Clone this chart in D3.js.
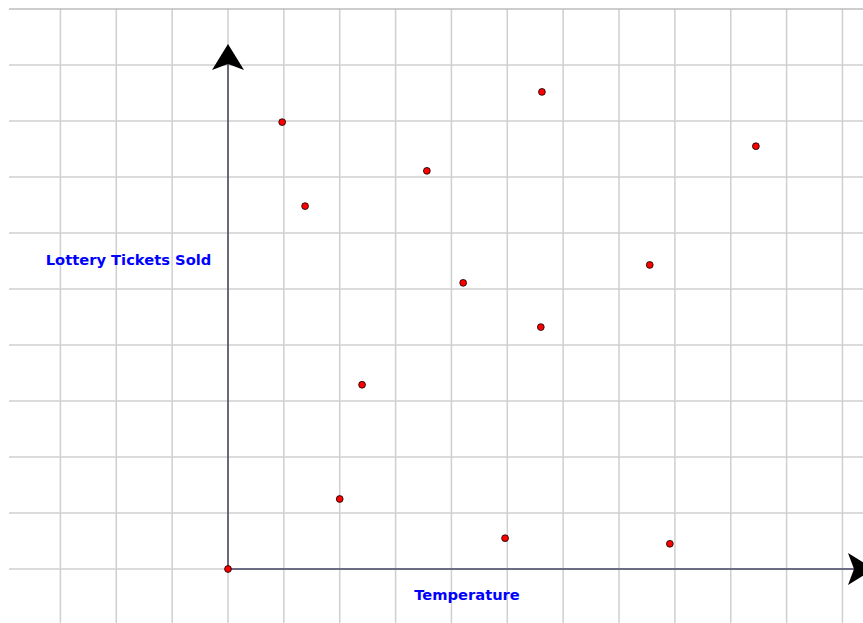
<!DOCTYPE html>
<html>
<head>
<meta charset="utf-8">
<script src="https://cdn.jsdelivr.net/npm/d3@7"></script>
<style>
  body { margin: 0; background: #fff; }
  svg { display: block; }
</style>
</head>
<body>
<svg id="graph"></svg>
<script>
//Grid units of the plot
var xTicks = [-3, -2, -1, 0, 1, 2, 3, 4, 5, 6, 7, 8, 9, 10, 11];
var yTicks = [0, 1, 2, 3, 4, 5, 6, 7, 8, 9, 10];

//Points (grid units)
var temperature = [0, 0.97, 1.38, 2.0, 2.4, 3.56, 4.21, 4.96, 5.62, 5.6, 7.55, 7.91, 9.45];
var ticketsSold = [0, 7.98, 6.48, 1.25, 3.29, 7.11, 5.11, 0.55, 8.52, 4.32, 5.43, 0.45, 7.55];

var xLabel = "Temperature";
var yLabel = "Lottery Tickets Sold";

var screen = {width: 863, height: 623};

var svg = d3.select("#graph")
    .attr("width", screen.width)
    .attr("height", screen.height);

//Scales: one grid cell is about 56px
var xScale = d3.scaleLinear()
    .domain([0, 10])
    .range([228, 786.6]);

var yScale = d3.scaleLinear()
    .domain([0, 10])
    .range([569, 9]);

//Grid
svg.append("g")
    .selectAll("line")
    .data(xTicks)
    .enter()
    .append("line")
    .attr("x1", function(d){ return xScale(d); })
    .attr("x2", function(d){ return xScale(d); })
    .attr("y1", yScale(10))
    .attr("y2", screen.height)
    .attr("stroke", "#cfcfcf")
    .attr("stroke-width", 1.5);

svg.append("g")
    .selectAll("line")
    .data(yTicks)
    .enter()
    .append("line")
    .attr("x1", 9)
    .attr("x2", screen.width)
    .attr("y1", function(d){ return yScale(d); })
    .attr("y2", function(d){ return yScale(d); })
    .attr("stroke", function(d){ return d == 10 ? "#bdbdbd" : "#cfcfcf"; })
    .attr("stroke-width", 1.5);

//Axes
var ox = xScale(0), oy = yScale(0);

svg.append("line")
    .attr("x1", ox).attr("x2", ox)
    .attr("y1", oy).attr("y2", 62)
    .attr("stroke", "#1e1e3c")
    .attr("stroke-width", 1.2);

svg.append("line")
    .attr("x1", ox).attr("x2", 856)
    .attr("y1", oy).attr("y2", oy)
    .attr("stroke", "#6c6c84")
    .attr("stroke-width", 2);

//Arrowheads
svg.append("path")
    .attr("d", "M" + ox + ",44 L" + (ox + 16) + ",70 L" + ox + ",64 L" + (ox - 16) + ",70 Z")
    .attr("fill", "#000");

svg.append("path")
    .attr("d", "M874," + oy + " L848," + (oy - 16) + " L854," + oy + " L848," + (oy + 16) + " Z")
    .attr("fill", "#000");

//Labels
svg.append("text")
    .attr("x", 128.5)
    .attr("y", 265)
    .attr("text-anchor", "middle")
    .attr("font-family", "DejaVu Sans, Verdana, sans-serif")
    .attr("font-weight", "bold")
    .attr("font-size", 14.7)
    .attr("fill", "#0000ff")
    .text(yLabel);

svg.append("text")
    .attr("x", 467)
    .attr("y", 600)
    .attr("text-anchor", "middle")
    .attr("font-family", "DejaVu Sans, Verdana, sans-serif")
    .attr("font-weight", "bold")
    .attr("font-size", 14.7)
    .attr("fill", "#0000ff")
    .text(xLabel);

//Points
svg.append("g")
    .selectAll("circle")
    .data(temperature)
    .enter()
    .append("circle")
    .attr("cx", function(d){ return xScale(d); })
    .attr("cy", function(d, i){ return yScale(ticketsSold[i]); })
    .attr("r", 3.4)
    .attr("fill", "#ff0000")
    .attr("stroke", "#000")
    .attr("stroke-width", 0.8);
</script>
</body>
</html>
